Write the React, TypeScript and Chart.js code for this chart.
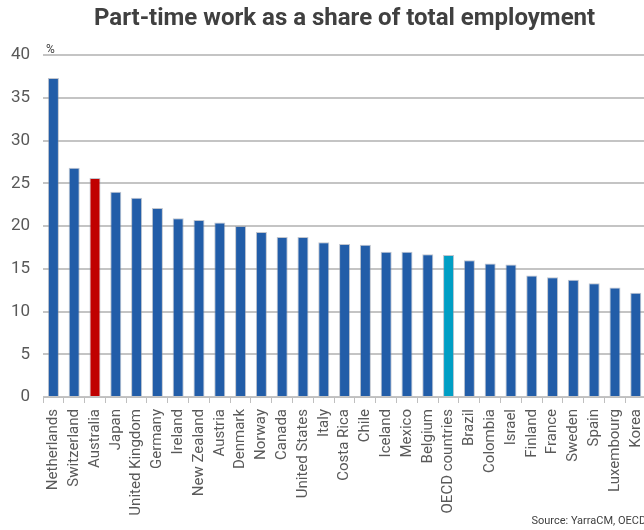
import React, { useEffect, useRef } from "react";
import { Chart, registerables } from "chart.js";

Chart.register(...registerables);

const countries: string[] = [
  "Netherlands", "Switzerland", "Australia", "Japan", "United Kingdom", "Germany",
  "Ireland", "New Zealand", "Austria", "Denmark", "Norway", "Canada", "United States",
  "Italy", "Costa Rica", "Chile", "Iceland", "Mexico", "Belgium", "OECD countries",
  "Brazil", "Colombia", "Israel", "Finland", "France", "Sweden", "Spain", "Luxembourg", "Korea",
];

const partTimeShare: number[] = [
  37.3, 26.8, 25.6, 24.0, 23.3, 22.1,
  20.9, 20.7, 20.4, 20.0, 19.3, 18.7, 18.7,
  18.1, 17.9, 17.8, 17.0, 17.0, 16.7, 16.6,
  16.0, 15.6, 15.5, 14.2, 14.0, 13.7, 13.3, 12.8, 12.2,
];

const yTicks: number[] = [0, 5, 10, 15, 20, 25, 30, 35, 40];

const BLUE = "#225DA8";
const RED = "#C00000";
const TEAL = "#009EC4";

const barColors = countries.map((c) =>
  c === "Australia" ? RED : c === "OECD countries" ? TEAL : BLUE
);

const percentPlugin = {
  id: "percentLabel",
  afterDraw(chart: any) {
    const { ctx, chartArea } = chart;
    ctx.save();
    ctx.font = "12px Roboto";
    ctx.fillStyle = "#404040";
    ctx.textAlign = "left";
    ctx.textBaseline = "alphabetic";
    ctx.fillText("%", chartArea.left + 3, chartArea.top - 2);
    ctx.restore();
  },
};

export default function App() {
  const ref = useRef<HTMLCanvasElement | null>(null);

  useEffect(() => {
    if (!ref.current) return;
    const chart = new Chart(ref.current, {
      type: "bar",
      data: {
        labels: countries,
        datasets: [
          {
            data: partTimeShare,
            backgroundColor: barColors,
            borderColor: "rgba(140,150,165,0.55)",
            borderWidth: 1,
            barPercentage: 0.53,
            categoryPercentage: 1,
          },
        ],
      },
      options: {
        responsive: false,
        animation: false,
        layout: { padding: { left: 0, right: 12, top: 0, bottom: 0 } },
        plugins: {
          legend: { display: false },
          tooltip: { enabled: false },
          title: {
            display: true,
            fullSize: false,
            text: "Part-time work as a share of total employment",
            color: "#404040",
            font: { family: "Roboto", size: 24, weight: "bold" },
            padding: { top: 5, bottom: 21.2 },
          },
          subtitle: {
            display: true,
            position: "bottom",
            align: "end",
            fullSize: false,
            text: "Source: YarraCM, OECD",
            color: "#404040",
            font: { family: "Roboto", size: 11 },
            padding: { top: 0, bottom: 2 },
          },
        },
        scales: {
          x: {
            grid: {
              display: true,
              drawOnChartArea: false,
              drawTicks: true,
              tickLength: 6,
              color: "#BFBFBF",
              offset: true,
            },
            border: { display: true, color: "#BFBFBF", width: 1 },
            ticks: {
              autoSkip: false,
              maxRotation: 90,
              minRotation: 90,
              padding: 6,
              color: "#595959",
              font: { family: "Roboto", size: 15 },
            },
            afterFit(scale: any) {
              scale.height = 530 - 397 - 15.2;
            },
          },
          y: {
            min: 0,
            max: 40,
            afterBuildTicks(scale: any) {
              scale.ticks = yTicks.map((v) => ({ value: v }));
            },
            grid: {
              color: "#C4C4C4",
              lineWidth: 2,
              drawTicks: false,
            },
            border: { display: false },
            ticks: {
              padding: 13,
              color: "#595959",
              font: { family: "Roboto", size: 17 },
            },
            afterFit(scale: any) {
              scale.width = 43;
            },
          },
        },
      },
      plugins: [percentPlugin],
    });
    return () => chart.destroy();
  }, []);

  return (
    <div
      style={{
        position: "fixed",
        left: 0,
        top: 0,
        width: 644,
        height: 530,
        overflow: "hidden",
        background: "#fff",
      }}
    >
      <canvas ref={ref} width={660} height={530} style={{ display: "block" }} />
    </div>
  );
}
